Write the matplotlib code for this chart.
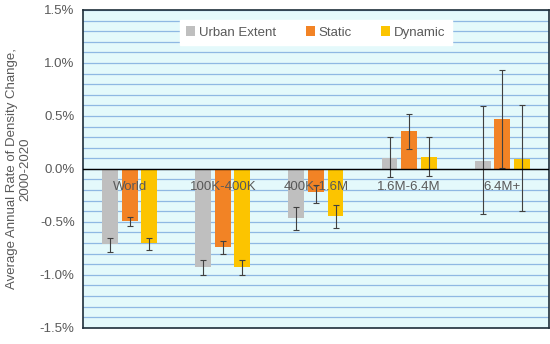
import numpy as np
import matplotlib.pyplot as plt
from matplotlib.ticker import FuncFormatter, MultipleLocator

categories = ['World', '100K-400K', '400K-1.6M', '1.6M-6.4M', '6.4M+']
series = ['Urban Extent', 'Static', 'Dynamic']

urban = [-0.71, -0.93, -0.46, 0.10, 0.07]
urban_lo = [-0.78, -1.00, -0.58, -0.08, -0.43]
urban_hi = [-0.65, -0.86, -0.36, 0.30, 0.59]

static = [-0.49, -0.74, -0.22, 0.36, 0.47]
static_lo = [-0.54, -0.80, -0.32, 0.19, 0.01]
static_hi = [-0.45, -0.68, -0.15, 0.52, 0.93]

dynamic = [-0.70, -0.93, -0.44, 0.11, 0.09]
dynamic_lo = [-0.77, -1.00, -0.56, -0.07, -0.40]
dynamic_hi = [-0.65, -0.86, -0.34, 0.30, 0.60]

colors = ['#bfbfbf', '#f28325', '#fcc400']
grey = '#595959'

plt.rcParams['font.family'] = ['Liberation Sans', 'DejaVu Sans']

fig = plt.figure(figsize=(5.5, 3.44), dpi=100)
ax = fig.add_axes([0.151, 0.047, 0.847, 0.924])
ax.set_facecolor('#e4f9fb')

x = np.arange(len(categories))
w = 0.17
step = 0.21
data = [(urban, urban_lo, urban_hi), (static, static_lo, static_hi),
        (dynamic, dynamic_lo, dynamic_hi)]
for i, (vals, lo, hi) in enumerate(data):
    pos = x + (i - 1) * step
    vals = np.array(vals)
    err = np.vstack([vals - np.array(lo), np.array(hi) - vals])
    ax.bar(pos, vals, width=w, color=colors[i], label=series[i], zorder=3)
    ax.errorbar(pos, vals, yerr=err, fmt='none', ecolor='#404040',
                elinewidth=0.8, capsize=2.5, capthick=0.8, zorder=4)

ax.set_xlim(-0.5, len(categories) - 0.5)
ax.set_ylim(-1.5, 1.5)
ax.yaxis.set_major_locator(MultipleLocator(0.5))
ax.yaxis.set_minor_locator(MultipleLocator(0.1))
ax.yaxis.set_major_formatter(FuncFormatter(lambda v, p: '%.1f%%' % v))
ax.grid(axis='y', which='both', color='#8fb8e3', linewidth=0.9, zorder=0)
ax.tick_params(axis='y', which='both', length=0, labelsize=9.5, labelcolor=grey, pad=6)
ax.tick_params(axis='x', length=0)
ax.set_xticks([])
ax.axhline(0, color='black', linewidth=1, zorder=5)
for s in ax.spines.values():
    s.set_color('#1f2f3a')
    s.set_linewidth(1.2)

for xi, name in zip(x, categories):
    ax.text(xi, -0.11, name, ha='center', va='top', fontsize=9.5, color=grey, zorder=6)

ax.set_ylabel('Average Annual Rate of Density Change,\n2000-2020', fontsize=9.5,
              color=grey, labelpad=6)

leg = ax.legend(loc='upper center', bbox_to_anchor=(0.5, 0.99), ncol=3,
                frameon=True, fancybox=False, edgecolor='white', facecolor='white',
                framealpha=1, fontsize=9.5, handlelength=0.7, handleheight=0.7,
                handletextpad=0.3, columnspacing=2.2, borderpad=0.5)
for t in leg.get_texts():
    t.set_color(grey)

fig.savefig('out.png', dpi=100)
